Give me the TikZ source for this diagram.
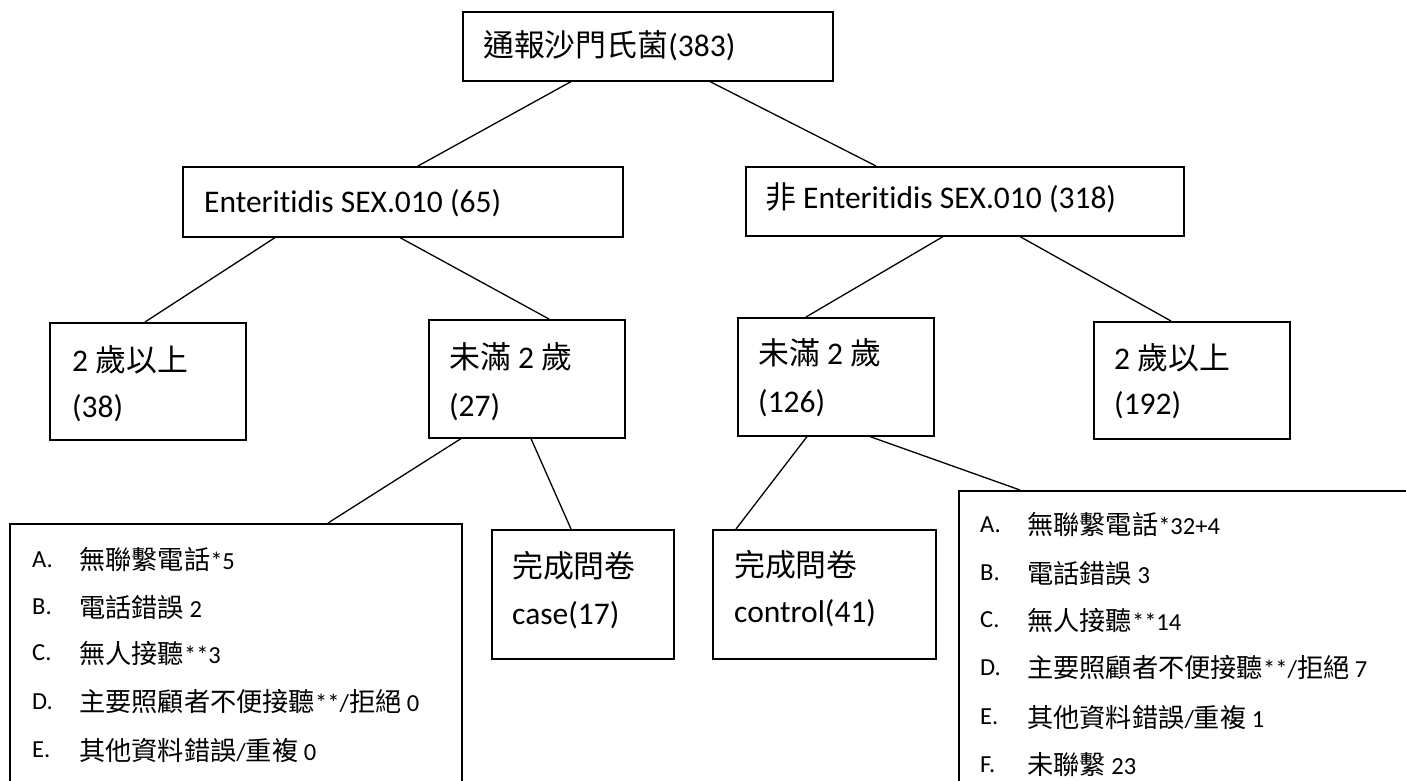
\documentclass[tikz,border=0pt]{standalone}
\usepackage{fontspec}
\setmainfont{Carlito}[Ligatures=NoCommon]
\newfontfamily\cjkfont[Scale=0.98]{Noto Sans CJK TC}
\newfontfamily\cjksmall[Scale=1.07]{Noto Sans CJK TC}
\newcommand\zh[1]{{\cjkfont #1}}
\newcommand\zs[1]{{\cjksmall #1}}
\begin{document}
\begin{tikzpicture}[x=1pt,y=-1pt,
 boxst/.style={draw, line width=1.6pt, inner sep=0pt, anchor=north west},
 lnk/.style={line width=1.3pt},
 big/.style={anchor=west, inner sep=0pt, font=\fontsize{31.5}{34}\selectfont},
 small/.style={anchor=west, inner sep=0pt, font=\fontsize{24.5}{26}\selectfont}]
\useasboundingbox (0,0) rectangle (1406,780);
\clip (0,0) rectangle (1406,780);
\fill[white] (0,0) rectangle (1406,780);
% boxes
\node[boxst, minimum width=370pt, minimum height=69pt] (top) at (462,11) {};
\node[boxst, minimum width=440pt, minimum height=70pt] (ent) at (182,166) {};
\node[boxst, minimum width=438pt, minimum height=69pt] (non) at (745,166) {};
\node[boxst, minimum width=196pt, minimum height=117pt] (a38) at (49,322) {};
\node[boxst, minimum width=196pt, minimum height=118pt] (u27) at (428,319) {};
\node[boxst, minimum width=196pt, minimum height=118pt] (u126) at (737,317) {};
\node[boxst, minimum width=196pt, minimum height=117pt] (a192) at (1093,321) {};
\node[boxst, minimum width=182pt, minimum height=129pt] (case) at (491,529) {};
\node[boxst, minimum width=223pt, minimum height=129pt] (ctrl) at (712,529) {};
\node[boxst, minimum width=452pt, minimum height=300pt] (listL) at (9,523) {};
\node[boxst, minimum width=460pt, minimum height=320pt] (listR) at (958,490) {};
% connectors
\draw[lnk] ([xshift=109pt]top.south west) -- ([xshift=236pt]ent.north west);
\draw[lnk] ([xshift=248pt]top.south west) -- ([xshift=131pt]non.north west);
\draw[lnk] ([xshift=93pt]ent.south west) -- ([xshift=96pt]a38.north west);
\draw[lnk] ([xshift=218pt]ent.south west) -- ([xshift=121pt]u27.north west);
\draw[lnk] ([xshift=198pt]non.south west) -- ([xshift=69pt]u126.north west);
\draw[lnk] ([xshift=275pt]non.south west) -- ([xshift=78pt]a192.north west);
\draw[lnk] ([xshift=33pt]u27.south west) -- ([xshift=319pt]listL.north west);
\draw[lnk] ([xshift=103pt]u27.south west) -- ([xshift=80pt]case.north west);
\draw[lnk] ([xshift=70pt]u126.south west) -- ([xshift=24pt]ctrl.north west);
\draw[lnk] ([xshift=133pt]u126.south west) -- ([xshift=62pt]listR.north west);
% texts
\node[big] (ttop) at (483,46) {\zh{通報沙門氏菌}(383)};
\node[big] (tent) at (204,203) {Enteritidis SEX.010 (65)};
\node[big] (tnon) at (765,198) {\zh{非} Enteritidis SEX.010 (318)};
\node[big] (ta38a) at (72,360) {2 \zh{歲以上}};
\node[big] (ta38b) at (72,408) {(38)};
\node[big] (tu27a) at (449,357) {\zh{未滿} 2 \zh{歲}};
\node[big] (tu27b) at (449,407) {(27)};
\node[big] (tu126a) at (758,353) {\zh{未滿} 2 \zh{歲}};
\node[big] (tu126b) at (758,403) {(126)};
\node[big] (ta192a) at (1114,358) {2 \zh{歲以上}};
\node[big] (ta192b) at (1114,405) {(192)};
\node[big] (tcasea) at (512,566) {\zh{完成問卷}};
\node[big] (tcaseb) at (512,615) {case(17)};
\node[big] (tctrla) at (734,565) {\zh{完成問卷}};
\node[big] (tctrlb) at (734,613) {control(41)};
% left list
\node[small] (lA) at (32,560) {A.};
\node[small] (lAt) at (79,560) {\zs{無聯繫電話}*5};
\node[small] (lB) at (32,607) {B.};
\node[small] (lBt) at (79,607) {\zs{電話錯誤} 2};
\node[small] (lC) at (32,653) {C.};
\node[small] (lCt) at (79,653) {\zs{無人接聽}**3};
\node[small] (lD) at (32,702) {D.};
\node[small] (lDt) at (79,702) {\zs{主要照顧者不便接聽}**/\zs{拒絕} 0};
\node[small] (lE) at (32,750) {E.};
\node[small] (lEt) at (79,750) {\zs{其他資料錯誤}/\zs{重複} 0};
% right list
\node[small] (rA) at (980,525) {A.};
\node[small] (rAt) at (1027,525) {\zs{無聯繫電話}*32+4};
\node[small] (rB) at (980,573) {B.};
\node[small] (rBt) at (1027,573) {\zs{電話錯誤} 3};
\node[small] (rC) at (980,620) {C.};
\node[small] (rCt) at (1027,620) {\zs{無人接聽}**14};
\node[small] (rD) at (980,668) {D.};
\node[small] (rDt) at (1027,668) {\zs{主要照顧者不便接聽}**/\zs{拒絕} 7};
\node[small] (rE) at (980,717) {E.};
\node[small] (rEt) at (1027,717) {\zs{其他資料錯誤}/\zs{重複} 1};
\node[small] (rF) at (980,765) {F.};
\node[small] (rFt) at (1027,765) {\zs{未聯繫} 23};
\end{tikzpicture}
\end{document}
